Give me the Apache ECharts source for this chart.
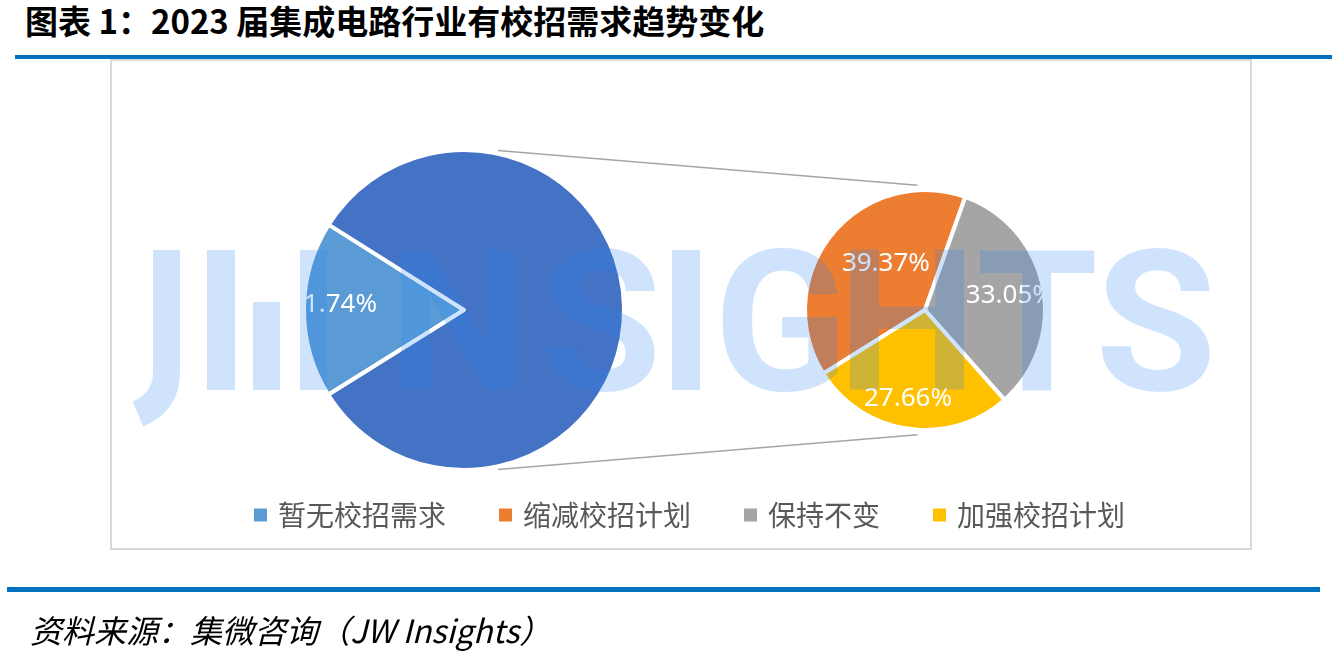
<!DOCTYPE html>
<html><head><meta charset="utf-8">
<script src="https://cdn.jsdelivr.net/npm/echarts@6/dist/echarts.min.js"></script>
<style>
html,body{margin:0;padding:0;width:1332px;height:664px;overflow:hidden;background:#fff;}
#title{position:absolute;left:25px;top:4px;font-family:"Noto Sans CJK SC";font-weight:bold;font-size:33px;line-height:33px;color:#000;white-space:nowrap;}
.rule{position:absolute;height:4px;background:#0070C0;}
#box{position:absolute;left:110px;top:59px;width:1138px;height:487px;border:2px solid #D9D9D9;}
#chart{position:absolute;left:0;top:0;width:1332px;height:664px;}
#src{position:absolute;left:30px;top:613px;font-family:"Noto Sans CJK SC";font-style:italic;font-size:32px;line-height:32px;color:#000;white-space:nowrap;}
#wm{position:absolute;left:0;top:0;pointer-events:none;}
</style>
</head><body>
<div id="title">图表 1：2023 届集成电路行业有校招需求趋势变化</div>
<div class="rule" style="left:15px;top:55px;width:1317px;"></div>
<div id="box"></div>
<div id="chart"></div>
<div class="rule" style="left:7px;top:587px;width:1313px;height:5px;"></div>
<div id="src">资料来源：集微咨询（JW Insights）</div>
<svg id="wm" width="1332" height="664">
  <g fill="rgb(37,132,241)" fill-opacity="0.22" font-family="Roboto" font-weight="700" font-size="197" text-anchor="middle">
    <path d="M166.5 250 L166.5 372 Q166.5 402 138 414" stroke="rgb(37,132,241)" stroke-opacity="0.22" stroke-width="27" fill="none"/>
    <rect x="207" y="250" width="28" height="140"/>
    <rect x="253" y="302" width="27" height="88"/>
    <rect x="300" y="250" width="27" height="140"/>
    <text x="458" y="390">N</text>
    <text x="601" y="390">S</text>
    <rect x="672" y="250" width="28" height="140"/>
    <text x="781" y="390">G</text>
    <text x="907" y="390">H</text>
    <text x="1037" y="390">T</text>
    <text x="1156" y="390">S</text>
  </g>
</svg>
<script>
// ---- data ----
const noDemandName = '暂无校招需求';
const noDemandValue = 21.74;
const subNames = ['缩减校招计划', '保持不变', '加强校招计划'];
const subValues = [39.37, 33.05, 27.66];
const legendNames = ['暂无校招需求', '缩减校招计划', '保持不变', '加强校招计划'];

// main pie: "no demand" slice vs. the aggregated "other" slice (sum of the secondary pie)
const mainNames = [noDemandName, '有校招需求'];
const mainValues = [noDemandValue, subValues.reduce((a, b) => a + b, 0)];

// ---- styles ----
const mainColors = ['#5B9BD5', '#4472C4'];
const subColors = ['#ED7D31', '#A5A5A5', '#FFC000'];
const MAIN = {cx: 464, cy: 310, r: 160};
const SUB = {cx: 925, cy: 310, r: 120};
const START = 212;
const mainLabelShift = [[-48, -5], [0, 0]];
const subLabelShift = [[10, -7], [23, -2], [-8, 26]];

function pt(p, ang, dr) {
  const a = ang * Math.PI / 180;
  return [p.cx + (p.r + dr) * Math.cos(a), p.cy - (p.r + dr) * Math.sin(a)];
}
const u1 = pt(MAIN, 78, 3), u2 = pt(SUB, 93.5, 5);
const l1 = pt(MAIN, -78, 3), l2 = pt(SUB, -93.5, 5);

const labelBase = {
  position: 'inside', color: '#fff', fontSize: 26, fontFamily: 'Noto Sans',
  formatter: p => p.value.toFixed(2) + '%'
};

const chart = echarts.init(document.getElementById('chart'), null, {renderer: 'canvas'});
chart.setOption({
  animation: false,
  backgroundColor: 'transparent',
  legend: {
    data: legendNames, left: 249, top: 496, icon: 'rect',
    itemWidth: 13, itemHeight: 13, itemGap: 53,
    itemStyle: {borderWidth: 0},
    textStyle: {fontSize: 28, color: '#595959', fontFamily: 'Noto Sans CJK SC', padding: [0, 0, 0, 6]},
    selectedMode: false
  },
  graphic: [
    {type: 'line', shape: {x1: u1[0], y1: u1[1], x2: u2[0], y2: u2[1]}, style: {stroke: '#A5A5A5', lineWidth: 1.6}},
    {type: 'line', shape: {x1: l1[0], y1: l1[1], x2: l2[0], y2: l2[1]}, style: {stroke: '#A5A5A5', lineWidth: 1.6}}
  ],
  series: [
    {
      type: 'pie', center: [MAIN.cx, MAIN.cy], radius: MAIN.r, startAngle: START, clockwise: true,
      avoidLabelOverlap: false, emphasis: {disabled: true},
      itemStyle: {borderColor: '#fff', borderWidth: 4},
      label: labelBase, labelLine: {show: false},
      labelLayout: p => ({dx: mainLabelShift[p.dataIndex][0], dy: mainLabelShift[p.dataIndex][1]}),
      data: mainNames.map((n, i) => ({name: n, value: mainValues[i], itemStyle: {color: mainColors[i]}, label: {show: i === 0}}))
    },
    {
      type: 'pie', center: [SUB.cx, SUB.cy], radius: SUB.r, startAngle: START, clockwise: true,
      avoidLabelOverlap: false, emphasis: {disabled: true},
      itemStyle: {borderColor: '#fff', borderWidth: 4},
      label: labelBase, labelLine: {show: false},
      labelLayout: p => ({dx: subLabelShift[p.dataIndex][0], dy: subLabelShift[p.dataIndex][1]}),
      data: subNames.map((n, i) => ({name: n, value: subValues[i], itemStyle: {color: subColors[i]}}))
    }
  ]
});
</script>
</body></html>
